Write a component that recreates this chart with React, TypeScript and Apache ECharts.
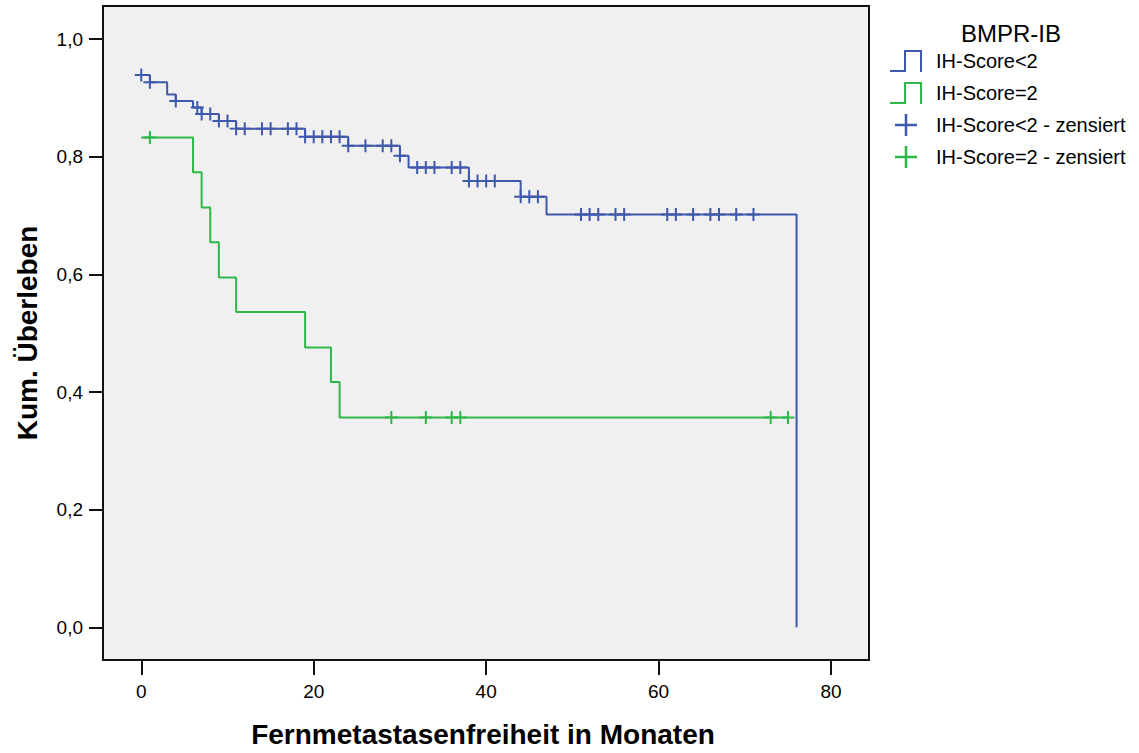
import React, { useEffect, useRef } from "react";
import * as echarts from "echarts";

// Kaplan-Meier data
const blueTimes = [0, 1, 3, 4, 6, 7, 9, 11, 19, 24, 30, 31, 38, 44, 47, 76];
const blueSurv = [0.939, 0.927, 0.906, 0.895, 0.884, 0.873, 0.861, 0.848, 0.834, 0.819, 0.802, 0.782, 0.759, 0.732, 0.702, 0];
const blueCensor = [0, 1, 4, 6.5, 7, 8, 9, 10, 11, 12, 14, 15, 17, 18, 19, 20, 21, 22, 23, 24, 26, 28, 29, 30, 32, 33, 34, 36, 37, 38, 39, 40, 41, 44, 45, 46, 51, 52, 53, 55, 56, 61, 62, 64, 66, 67, 69, 71];

const greenTimes = [0, 6, 7, 8, 9, 11, 19, 22, 23, 75];
const greenSurv = [0.833, 0.774, 0.714, 0.655, 0.595, 0.536, 0.476, 0.417, 0.357, 0.357];
const greenCensor = [1, 29, 33, 36, 37, 73, 75];

const xTicks = [0, 20, 40, 60, 80];
const yTicks = [0, 0.2, 0.4, 0.6, 0.8, 1.0];

const seriesNames = ["IH-Score<2", "IH-Score=2", "IH-Score<2 - zensiert", "IH-Score=2 - zensiert"];
const legendTitle = "BMPR-IB";
const xTitle = "Fernmetastasenfreiheit in Monaten";
const yTitle = "Kum. Überleben";

const BLUE = "#3E58AC";
const GREEN = "#2EB848";
const FONT = "'Liberation Sans', Arial, Helvetica, sans-serif";

const levelAt = (times: number[], surv: number[], t: number) => {
  let v = surv[0];
  for (let i = 0; i < times.length; i++) if (times[i] <= t) v = surv[i];
  return v;
};

const stepIcon = "path://M0,20 H14 V0 H32 V22 H30 V2 H16 V22 H0 Z";
const plusSym = "path://M5.5,0 h2 v13 h-2 z M0,5.5 h13 v2 h-13 z";
const plusLegend = "path://M9.75,0 h2.5 v22 h-2.5 z M0,9.75 h22 v2.5 h-22 z";

export default function App() {
  const ref = useRef<HTMLDivElement>(null);
  useEffect(() => {
    document.body.style.margin = "0";
    const chart = echarts.init(ref.current!, null, { renderer: "svg" });
    const option: any = {
      animation: false,
      backgroundColor: "#ffffff",
      textStyle: { fontFamily: FONT },
      grid: {
        show: true,
        left: 103,
        top: 6,
        width: 766,
        height: 656,
        backgroundColor: "#f0f0f0",
        borderColor: "#111",
        borderWidth: 2,
        containLabel: false,
      },
      xAxis: {
        type: "value",
        min: -4.44,
        max: 84.4,
        axisLine: { show: false, onZero: false },
        splitLine: { show: false },
        axisTick: { show: true, length: 15, lineStyle: { color: "#111", width: 2 }, customValues: xTicks },
        axisLabel: { customValues: xTicks, fontSize: 19, color: "#000", margin: 22, fontFamily: FONT },
        name: xTitle,
        nameLocation: "middle",
        nameGap: 60,
        nameTextStyle: { fontSize: 28, fontWeight: "bold", color: "#000", fontFamily: FONT, padding: [0, 6, 0, 0] },
      },
      yAxis: {
        type: "value",
        min: -0.0555,
        max: 1.0565,
        axisLine: { show: false, onZero: false },
        splitLine: { show: false },
        axisTick: { show: true, length: 14, lineStyle: { color: "#111", width: 2 }, customValues: yTicks },
        axisLabel: {
          customValues: yTicks,
          fontSize: 19,
          color: "#000",
          margin: 20,
          fontFamily: FONT,
          formatter: (v: number) => v.toFixed(1).replace(".", ","),
        },
        name: yTitle,
        nameLocation: "middle",
        nameGap: 62,
        nameRotate: 90,
        nameTextStyle: { fontSize: 28, fontWeight: "bold", color: "#000", fontFamily: FONT },
      },
      legend: [
        {
          data: [
            { name: seriesNames[0], icon: stepIcon },
            { name: seriesNames[1], icon: stepIcon },
          ],
          orient: "vertical",
          left: 890,
          top: 50,
          padding: 0,
          itemWidth: 32,
          itemHeight: 22,
          itemGap: 10,
          selectedMode: false,
          itemStyle: { borderWidth: 0 },
          textStyle: { fontSize: 20, color: "#000", fontFamily: FONT, padding: [0, 0, 0, 9] },
        },
        {
          data: [
            { name: seriesNames[2], icon: plusLegend },
            { name: seriesNames[3], icon: plusLegend },
          ],
          orient: "vertical",
          left: 895,
          top: 114,
          padding: 0,
          itemWidth: 22,
          itemHeight: 22,
          itemGap: 10,
          selectedMode: false,
          itemStyle: { borderWidth: 0 },
          textStyle: { fontSize: 20, color: "#000", fontFamily: FONT, padding: [0, 0, 0, 14] },
        },
      ],
      graphic: [
        {
          type: "text",
          x: 1011,
          y: 33,
          style: {
            text: legendTitle,
            fontSize: 24,
            fontFamily: FONT,
            fill: "#000",
            align: "center",
            verticalAlign: "middle",
          },
        },
      ],
      series: [
        {
          name: seriesNames[0],
          type: "line",
          step: "end",
          symbol: "none",
          data: blueTimes.map((t, i) => [t, blueSurv[i]]),
          lineStyle: { color: BLUE, width: 2 },
          itemStyle: { color: BLUE },
          z: 3,
        },
        {
          name: seriesNames[1],
          type: "line",
          step: "end",
          symbol: "none",
          data: greenTimes.map((t, i) => [t, greenSurv[i]]),
          lineStyle: { color: GREEN, width: 2 },
          itemStyle: { color: GREEN },
          z: 2,
        },
        {
          name: seriesNames[2],
          type: "scatter",
          symbol: plusSym,
          symbolSize: 13,
          data: blueCensor.map((t) => [t, levelAt(blueTimes, blueSurv, t)]),
          itemStyle: { color: BLUE, opacity: 1 },
          z: 4,
        },
        {
          name: seriesNames[3],
          type: "scatter",
          symbol: plusSym,
          symbolSize: 13,
          data: greenCensor.map((t) => [t, levelAt(greenTimes, greenSurv, t)]),
          itemStyle: { color: GREEN, opacity: 1 },
          z: 4,
        },
      ],
    };
    chart.setOption(option);
    return () => chart.dispose();
  }, []);
  return <div ref={ref} style={{ width: 1139, height: 753 }} />;
}
